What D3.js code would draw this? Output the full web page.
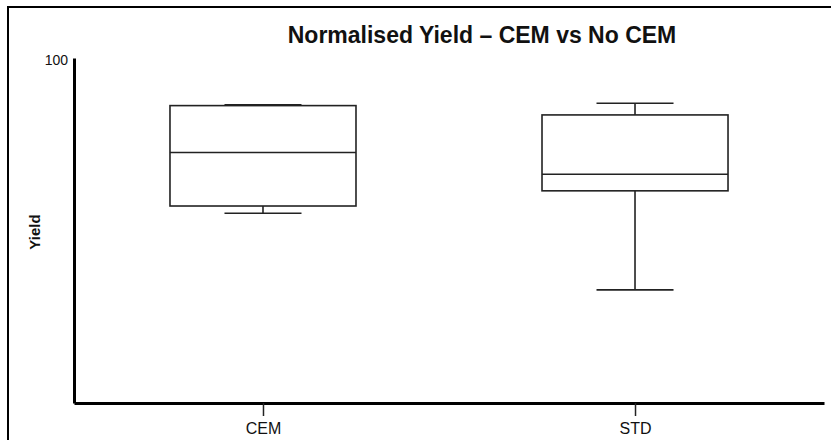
<!DOCTYPE html>
<html>
<head>
<meta charset="utf-8">
<script src="https://cdn.jsdelivr.net/npm/d3@7"></script>
<style>
  body { margin: 0; background: #fff; }
  text { font-family: "Liberation Sans", Arial, sans-serif; fill: #111; }
</style>
</head>
<body>
<div class="box-chart"></div>
<script>
const categories = ['CEM', 'STD'];
const mins = [55.0, 32.8];
const q1s = [57.1, 61.5];
const medians = [72.6, 66.3];
const q3s = [86.2, 83.5];
const maxs = [86.4, 86.9];
const yTicks = [100];

const width = 831;
const height = 440;
const plot = { left: 74, right: 824, top: 58, bottom: 403 };

const svg = d3.select('.box-chart').append('svg')
  .attr('width', width)
  .attr('height', height)
  .style('background-color', 'white');

// frame (left + top only visible)
svg.append('path')
  .attr('d', `M8,${height} L8,7 L${width},7`)
  .style('fill', 'none')
  .style('stroke', '#000')
  .style('stroke-width', 2);

const xScale = d3.scalePoint()
  .domain(categories)
  .range([plot.left, plot.right])
  .padding(0.508);

const yScale = d3.scaleLinear()
  .domain([0, 100])
  .range([plot.bottom, plot.top]);

const step = xScale.step();
const boxW = step * 0.5;
const capW = step * 0.207;

// title
svg.append('text')
  .attr('x', 482)
  .attr('y', 43)
  .attr('text-anchor', 'middle')
  .style('font-size', '23px')
  .style('font-weight', 'bold')
  .text('Normalised Yield \u2013 CEM vs No CEM');

// y axis label
svg.append('text')
  .attr('transform', 'translate(40, 232) rotate(-90)')
  .attr('text-anchor', 'middle')
  .style('font-size', '15px')
  .style('font-weight', 'bold')
  .text('Yield');

const xAxis = svg.append('g')
  .attr('class', 'x axis')
  .attr('transform', `translate(0, ${plot.bottom})`)
  .call(d3.axisBottom(xScale).tickSizeInner(13).tickSizeOuter(0).tickPadding(7));

xAxis.select('.domain').style('stroke-width', 3).style('stroke', '#000');
xAxis.selectAll('.tick line').style('stroke-width', 1.5).style('stroke', '#222');
xAxis.selectAll('.tick text').style('font-size', '16px').style('font-family', '"Liberation Sans", Arial, sans-serif').attr('fill', '#111');

const yAxis = svg.append('g')
  .attr('class', 'y axis')
  .attr('transform', `translate(${plot.left}, 0)`)
  .call(d3.axisLeft(yScale).tickValues(yTicks).tickSizeInner(0).tickSizeOuter(0).tickPadding(6));

yAxis.select('.domain').style('stroke-width', 3).style('stroke', '#000');
yAxis.selectAll('.tick text').style('font-size', '14px').style('font-family', '"Liberation Sans", Arial, sans-serif').attr('fill', '#111').attr('dy', '0.45em');

/*
 * Boxes and whiskers
 */
const stats = categories.map((c, i) => ({
  cat: c, min: mins[i], q1: q1s[i], med: medians[i], q3: q3s[i], max: maxs[i]
}));

const g = svg.selectAll('.box')
  .data(stats)
  .enter()
  .append('g')
  .attr('class', 'box')
  .style('stroke', '#222')
  .style('stroke-width', 1.6)
  .style('fill', 'none');

// whisker stems
g.append('line')
  .attr('x1', d => xScale(d.cat)).attr('x2', d => xScale(d.cat))
  .attr('y1', d => yScale(d.q3)).attr('y2', d => yScale(d.max));
g.append('line')
  .attr('x1', d => xScale(d.cat)).attr('x2', d => xScale(d.cat))
  .attr('y1', d => yScale(d.q1)).attr('y2', d => yScale(d.min));

// caps
g.append('line')
  .attr('x1', d => xScale(d.cat) - capW / 2).attr('x2', d => xScale(d.cat) + capW / 2)
  .attr('y1', d => yScale(d.max)).attr('y2', d => yScale(d.max));
g.append('line')
  .attr('x1', d => xScale(d.cat) - capW / 2).attr('x2', d => xScale(d.cat) + capW / 2)
  .attr('y1', d => yScale(d.min)).attr('y2', d => yScale(d.min));

// box
g.append('rect')
  .attr('x', d => xScale(d.cat) - boxW / 2)
  .attr('width', boxW)
  .attr('y', d => yScale(d.q3))
  .attr('height', d => yScale(d.q1) - yScale(d.q3))
  .style('fill', 'white');

// median
g.append('line')
  .attr('x1', d => xScale(d.cat) - boxW / 2).attr('x2', d => xScale(d.cat) + boxW / 2)
  .attr('y1', d => yScale(d.med)).attr('y2', d => yScale(d.med));
</script>
</body>
</html>
